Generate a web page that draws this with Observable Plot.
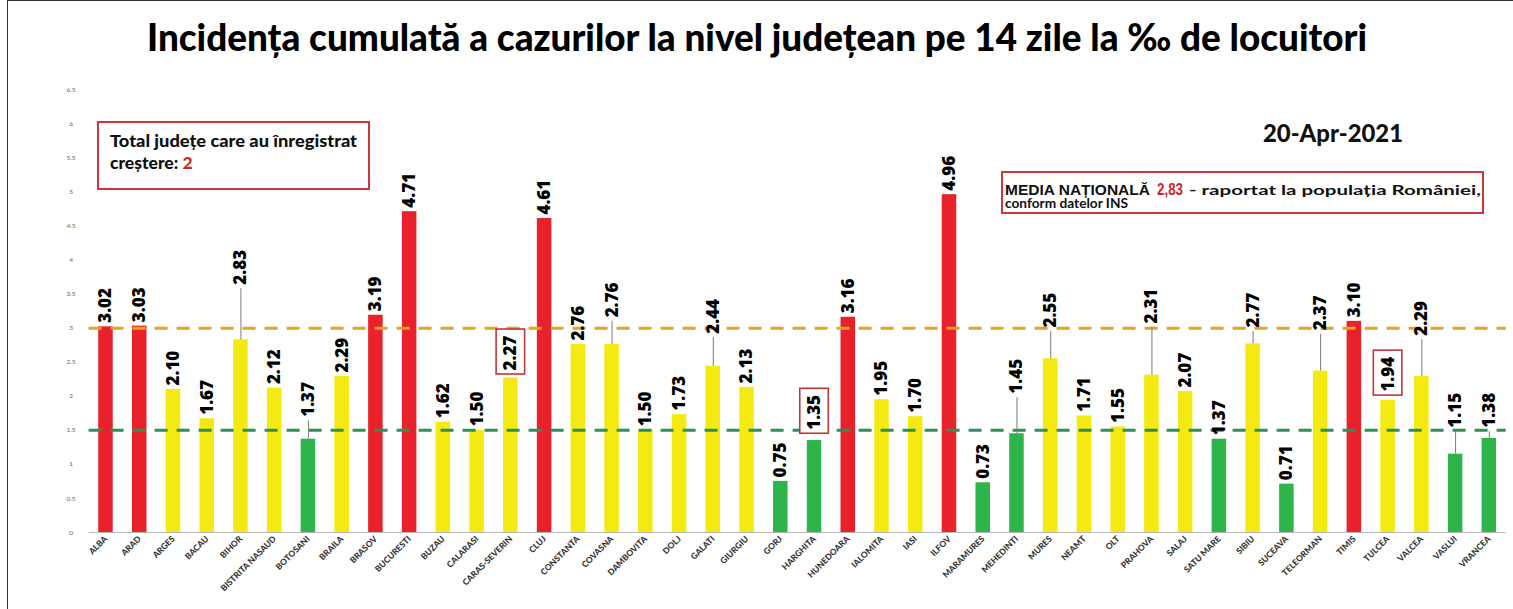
<!DOCTYPE html>
<html><head><meta charset="utf-8">
<script src="https://cdn.jsdelivr.net/npm/d3@7"></script>
<script src="https://cdn.jsdelivr.net/npm/@observablehq/plot@0.6"></script>
<style>
body{margin:0;background:#fff;}
#wrap{position:relative;width:1513px;height:609px;overflow:hidden;background:#fff;}
#frame{position:absolute;left:7px;top:0;width:1506px;height:609px;border-left:1.5px solid #333;border-top:1.5px solid #333;box-sizing:border-box;pointer-events:none}
#title{position:absolute;left:0;top:0;}
#chart{position:absolute;left:0;top:75px;}
#overlay{position:absolute;left:0;top:0;pointer-events:none}
</style></head>
<body>
<div id="wrap">
  <svg id="title" width="1513" height="75">
    <text x="147" y="51" textLength="1220" lengthAdjust="spacingAndGlyphs" font-family="Lato, 'Open Sans', sans-serif" font-weight="900" font-size="38" fill="#000">Incidența cumulată a cazurilor la nivel județean pe 14 zile la ‰ de locuitori</text>
  </svg>
  <div id="chart"></div>
  <svg id="overlay" width="1513" height="609">
    <rect x="98" y="122" width="271" height="67" fill="#fff" stroke="#c8373a" stroke-width="2"/>
    <text x="110" y="147" textLength="247" lengthAdjust="spacingAndGlyphs" font-family="Lato, sans-serif" font-weight="900" font-size="17.5" fill="#111">Total județe care au înregistrat</text>
    <text x="110" y="169" font-family="Lato, sans-serif" font-weight="900" font-size="17.5" fill="#111">creștere: <tspan fill="#d0262b">2</tspan></text>
    <text x="1263" y="142" textLength="140" lengthAdjust="spacingAndGlyphs" font-family="Lato, sans-serif" font-weight="900" font-size="25" fill="#111">20-Apr-2021</text>
    <rect x="1002" y="172" width="481" height="41" fill="#fff" stroke="#c8373a" stroke-width="2"/>
    <text x="1005" y="195" textLength="145" lengthAdjust="spacingAndGlyphs" font-family="'Liberation Sans', Arial, sans-serif" font-weight="bold" font-size="15.5" fill="#111">MEDIA NAȚIONALĂ</text>
    <text x="1157" y="195" textLength="26" lengthAdjust="spacingAndGlyphs" font-family="'Liberation Sans', Arial, sans-serif" font-weight="bold" font-size="16" fill="#d0262b">2,83</text>
    <text x="1189" y="195" textLength="292" lengthAdjust="spacingAndGlyphs" font-family="Lato, sans-serif" font-weight="bold" font-size="13.5" fill="#111">- raportat la populația României,</text>
    <text x="1005" y="208" textLength="123" lengthAdjust="spacingAndGlyphs" font-family="Lato, sans-serif" font-weight="bold" font-size="13" fill="#111">conform datelor INS</text>
  </svg>
  <div id="frame"></div>
</div>
<script>
const counties = ["ALBA","ARAD","ARGES","BACAU","BIHOR","BISTRITA NASAUD","BOTOSANI","BRAILA","BRASOV","BUCURESTI","BUZAU","CALARASI","CARAS-SEVERIN","CLUJ","CONSTANTA","COVASNA","DAMBOVITA","DOLJ","GALATI","GIURGIU","GORJ","HARGHITA","HUNEDOARA","IALOMITA","IASI","ILFOV","MARAMURES","MEHEDINTI","MURES","NEAMT","OLT","PRAHOVA","SALAJ","SATU MARE","SIBIU","SUCEAVA","TELEORMAN","TIMIS","TULCEA","VALCEA","VASLUI","VRANCEA"];
const values = [3.02,3.03,2.10,1.67,2.83,2.12,1.37,2.29,3.19,4.71,1.62,1.50,2.27,4.61,2.76,2.76,1.50,1.73,2.44,2.13,0.75,1.35,3.16,1.95,1.70,4.96,0.73,1.45,2.55,1.71,1.55,2.31,2.07,1.37,2.77,0.71,2.37,3.10,1.94,2.29,1.15,1.38];
// where a lifted value label starts (data units), null = right above the bar
const labelBase = [null,null,null,null,3.58,null,1.64,null,null,null,null,null,2.32,null,null,3.10,null,null,2.86,null,null,1.45,null,null,null,null,null,1.98,2.95,null,null,3.01,null,null,2.95,null,2.91,null,2.01,2.83,1.48,1.48];
const boxed = ["CARAS-SEVERIN","HARGHITA","TULCEA"];
const thresholds = [1.5, 3];
const yTicks = [0,0.5,1,1.5,2,2.5,3,3.5,4,4.5,5,5.5,6,6.5];

const zone = v => v > thresholds[1] ? "peste 3" : v < thresholds[0] ? "sub 1.5" : "intre";
const rows = counties.map((c, i) => ({
  county: c,
  value: values[i],
  base: labelBase[i] ?? values[i],
  boxed: boxed.includes(c),
  leader: labelBase[i] != null && !boxed.includes(c),
  zone: zone(values[i])
}));

const chart = Plot.plot({
  width: 1513,
  height: 534,
  marginLeft: 88.6,
  marginRight: 7.3,
  marginTop: 14.3,
  marginBottom: 77,
  style: {fontFamily: "Lato, 'Open Sans', sans-serif", background: "transparent"},
  x: {domain: counties, paddingInner: 0.57, paddingOuter: 0.285, label: null},
  y: {domain: [0, 6.5], label: null},
  color: {domain: ["peste 3", "intre", "sub 1.5"], range: ["#e8212b", "#f4ea12", "#2db44b"]},
  marks: [
    Plot.ruleY([0], {stroke: "#b8b8b8", strokeWidth: 1.2}),
    Plot.barY(rows, {x: "county", y: "value", fill: "zone"}),
    Plot.ruleY([thresholds[1]], {stroke: "#e9a21b", strokeWidth: 3, strokeDasharray: "13,9"}),
    Plot.ruleY([thresholds[0]], {stroke: "#2f8f55", strokeWidth: 3, strokeDasharray: "13,9"}),
    Plot.ruleX(rows.filter(d => d.leader), {x: "county", y1: "value", y2: "base", stroke: "#7a7a7a", strokeWidth: 1}),
    Plot.barY(rows.filter(d => d.boxed), {x: "county", y1: "base", y2: d => d.base + 0.66, fill: "#fff", stroke: "#c0353a", strokeWidth: 1.6, insetLeft: -7, insetRight: -7}),
    Plot.text(rows, {x: "county", y: "base", text: d => d.value.toFixed(2), rotate: -90, textAnchor: "start", dy: -4, fontSize: 17, fontWeight: 900, fontFamily: "'Open Sans', Lato, sans-serif", fill: "#000"}),
    Plot.axisY({ticks: yTicks, tickFormat: d => String(d), tickSize: 0, tickPadding: 18, textAnchor: "middle", fontSize: 6.5, fill: "#666", label: null}),
    Plot.axisX({tickRotate: -45, tickSize: 0, tickPadding: 5, fontSize: 8.5, fontWeight: 900, fill: "#333", label: null})
  ]
});
document.getElementById("chart").appendChild(chart);
</script>
</body></html>
